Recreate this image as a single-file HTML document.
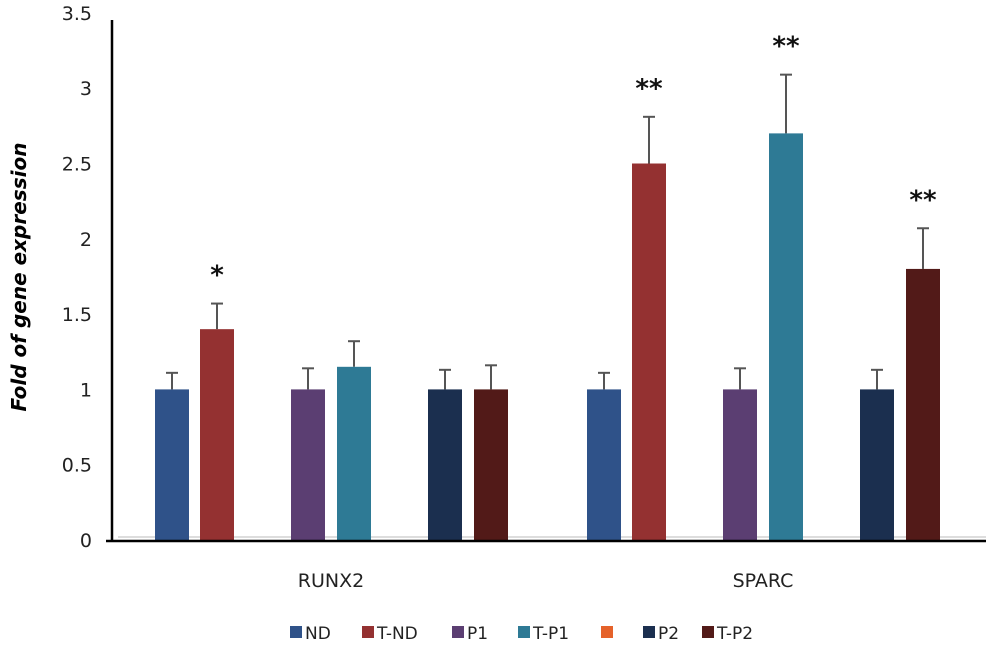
<!DOCTYPE html>
<html><head><meta charset="utf-8"><style>
body{margin:0;background:#fff;}
svg text{font-family:"DejaVu Sans","Liberation Sans",sans-serif;}
</style></head><body>
<svg id="chart" width="986" height="646" xmlns="http://www.w3.org/2000/svg">
<g id="yticks"></g>
<text transform="translate(26,277) rotate(-90)" text-anchor="middle" font-size="20" font-weight="bold" font-style="italic" fill="#000">Fold of gene expression</text>
<line x1="118" y1="537" x2="986" y2="537" stroke="#bbb" stroke-width="1"/>
<g id="bars"></g>
<line x1="112" y1="20" x2="112" y2="542" stroke="#000" stroke-width="2.5"/>
<line x1="106" y1="541" x2="986" y2="541" stroke="#000" stroke-width="2.5"/>
<g id="legend"></g>
</svg>
<script>
const categories = ["RUNX2","SPARC"];
const series = ["ND","T-ND","P1","T-P1","","P2","T-P2"];
const colors = ["#2f5289","#943131","#5b3e72","#2e7a95","#e5622a","#1b2f4f","#521a18"];
const valuesRUNX2 = [1,1.4,1,1.15,null,1,1];
const valuesSPARC = [1,2.5,1,2.7,null,1,1.8];
const errRUNX2 = [0.11,0.17,0.14,0.17,null,0.13,0.16];
const errSPARC = [0.11,0.31,0.14,0.39,null,0.13,0.27];
const starsRUNX2 = ["","*","","","","",""];
const starsSPARC = ["","**","","**","","","**"];
const yTicks = [0,0.5,1,1.5,2,2.5,3,3.5];
const NS="http://www.w3.org/2000/svg";
function y(v){return 540 - v*150.6;}
const groupStart=[155,587];
const barW=34;
const slotX=[0,45,136,182,null,273,319];
function mk(tag,attrs,parent){const e=document.createElementNS(NS,tag);for(const k in attrs)e.setAttribute(k,attrs[k]);parent.appendChild(e);return e;}
const yt=document.getElementById('yticks');
yTicks.forEach(t=>{const e=mk('text',{x:92,y:y(t)+7,'text-anchor':'end','font-size':19,fill:'#222'},yt);


e.textContent=String(t);});
const bars=document.getElementById('bars');
const vals=[valuesRUNX2,valuesSPARC],errs=[errRUNX2,errSPARC],stars=[starsRUNX2,starsSPARC];
categories.forEach((c,ci)=>{
 series.forEach((s,si)=>{
  const v=vals[ci][si]; if(v==null) return;
  const x=groupStart[ci]+slotX[si];
  const top=y(v+errs[ci][si]);
  const el=mk('line',{x1:x+barW/2,x2:x+barW/2,y1:y(v),y2:top,stroke:'#555','stroke-width':2},bars);
  
  
  const cap=mk('line',{x1:x+barW/2-6,x2:x+barW/2+6,y1:top,y2:top,stroke:'#555','stroke-width':2},bars);
  
  
  const r=mk('rect',{x:x,y:y(v),width:barW,height:y(0)-y(v),fill:colors[si]},bars);
  
  
  if(stars[ci][si]){const t=mk('text',{x:x+barW/2,y:top-20,'text-anchor':'middle','font-size':26,'font-weight':'bold',fill:'#111'},bars);
   
   
   t.textContent=stars[ci][si];}
 });
 const lbl=mk('text',{x:groupStart[ci]+176,y:587,'text-anchor':'middle','font-size':19,fill:'#222'},bars);
 
 
 lbl.textContent=c;
});
const lg=document.getElementById('legend');
const legX=[290,362,452,518,601,643,702];
series.forEach((s,si)=>{
 const r=mk('rect',{x:legX[si],y:626,width:12,height:12,fill:colors[si]},lg);
 
 
 const t=mk('text',{x:legX[si]+15,y:639,'font-size':17,fill:'#222'},lg);
 
 
 t.textContent=s;
});
</script>
</body></html>
